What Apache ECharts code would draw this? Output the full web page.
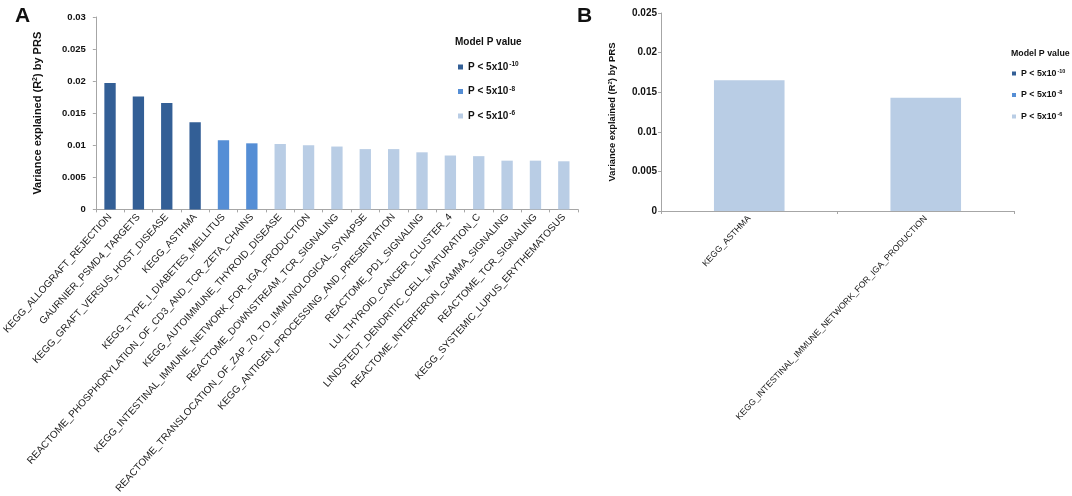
<!DOCTYPE html>
<html>
<head>
<meta charset="utf-8">
<script src="https://cdn.jsdelivr.net/npm/echarts@6/dist/echarts.min.js"></script>
<style>
  html, body { margin: 0; padding: 0; background: #fff; }
  #main { width: 1072px; height: 496px; }
</style>
</head>
<body>
<div id="main"></div>
<script>
// panel A
var categoriesA = [
    'KEGG_ALLOGRAFT_REJECTION',
    'GAURNIER_PSMD4_TARGETS',
    'KEGG_GRAFT_VERSUS_HOST_DISEASE',
    'KEGG_ASTHMA',
    'KEGG_TYPE_I_DIABETES_MELLITUS',
    'REACTOME_PHOSPHORYLATION_OF_CD3_AND_TCR_ZETA_CHAINS',
    'KEGG_AUTOIMMUNE_THYROID_DISEASE',
    'KEGG_INTESTINAL_IMMUNE_NETWORK_FOR_IGA_PRODUCTION',
    'REACTOME_DOWNSTREAM_TCR_SIGNALING',
    'REACTOME_TRANSLOCATION_OF_ZAP_70_TO_IMMUNOLOGICAL_SYNAPSE',
    'KEGG_ANTIGEN_PROCESSING_AND_PRESENTATION',
    'REACTOME_PD1_SIGNALING',
    'LUI_THYROID_CANCER_CLUSTER_4',
    'LINDSTEDT_DENDRITIC_CELL_MATURATION_C',
    'REACTOME_INTERFERON_GAMMA_SIGNALING',
    'REACTOME_TCR_SIGNALING',
    'KEGG_SYSTEMIC_LUPUS_ERYTHEMATOSUS'
];
var valuesA = [0.0197, 0.0176, 0.0166, 0.0136, 0.0108, 0.0103, 0.0102, 0.0100, 0.0098,
               0.0094, 0.0094, 0.0089, 0.0084, 0.0083, 0.0076, 0.0076, 0.0075];
// 0 = P<5x10-10, 1 = P<5x10-8, 2 = P<5x10-6
var groupA = [0, 0, 0, 0, 1, 1, 2, 2, 2, 2, 2, 2, 2, 2, 2, 2, 2];

// panel B
var categoriesB = ['KEGG_ASTHMA', 'KEGG_INTESTINAL_IMMUNE_NETWORK_FOR_IGA_PRODUCTION'];
var valuesB = [0.0165, 0.0143];
var groupB = [2, 2];

var pNames = ['P < 5x10-10', 'P < 5x10-8', 'P < 5x10-6'];
var pExps = ['-10', '-8', '-6'];
var pColors = ['#335f96', '#558ed5', '#b9cde5'];

var font = '"Liberation Sans", Arial, sans-serif';
var myChart = echarts.init(document.getElementById('main'));

function pick(values, groups, g) {
    return values.map(function (v, i) { return groups[i] === g ? v : '-'; });
}

function legendFormatter(name) {
    return 'P < 5x10{sup|' + pExps[pNames.indexOf(name)] + '}';
}

var series = [];
pNames.forEach(function (n, g) {
    series.push({
        name: n, type: 'bar', stack: 'a', xAxisIndex: 0, yAxisIndex: 0,
        barWidth: '40%', itemStyle: { color: pColors[g] },
        data: pick(valuesA, groupA, g)
    });
});
pNames.forEach(function (n, g) {
    series.push({
        name: n, type: 'bar', stack: 'b', xAxisIndex: 1, yAxisIndex: 1,
        barWidth: '40%', itemStyle: { color: pColors[g] },
        data: pick(valuesB, groupB, g)
    });
});

var axisLine = { show: true, lineStyle: { color: '#a6a6a6', width: 1 } };
var axisTick = { show: true, length: 3, lineStyle: { color: '#a6a6a6' } };

var option = {
    animation: false,
    textStyle: { fontFamily: font },
    title: [
        { text: 'A', left: 10, top: 1, textStyle: { fontSize: 21, fontWeight: 'bold', color: '#111', fontFamily: font } },
        { text: 'B', left: 572, top: 1, textStyle: { fontSize: 21, fontWeight: 'bold', color: '#111', fontFamily: font } },
        { text: 'Model P value', left: 455, top: 37, padding: 0, textStyle: { fontSize: 10, fontWeight: 'bold', color: '#111', fontFamily: font } },
        { text: 'Model P value', left: 1011, top: 49, padding: 0, textStyle: { fontSize: 8.8, fontWeight: 'bold', color: '#111', fontFamily: font } }
    ],
    legend: [
        {
            orient: 'vertical', left: 458, top: 61, padding: 0,
            itemWidth: 5, itemHeight: 5, icon: 'rect', itemGap: 12.5,
            data: pNames, formatter: legendFormatter,
            textStyle: {
                fontSize: 10, fontWeight: 'bold', color: '#111', fontFamily: font, lineHeight: 12,
                rich: { sup: { fontSize: 6.5, fontWeight: 'bold', color: '#111', verticalAlign: 'top', lineHeight: 12, padding: [0, 0, 5, 1] } }
            }
        },
        {
            orient: 'vertical', left: 1012, top: 68, padding: 0,
            itemWidth: 4, itemHeight: 4, icon: 'rect', itemGap: 10.5,
            data: pNames, formatter: legendFormatter,
            textStyle: {
                fontSize: 8.8, fontWeight: 'bold', color: '#111', fontFamily: font, lineHeight: 11,
                rich: { sup: { fontSize: 5.5, fontWeight: 'bold', color: '#111', verticalAlign: 'top', lineHeight: 11, padding: [0, 0, 4, 1] } }
            }
        }
    ],
    grid: [
        { left: 90, top: 17, width: 488, height: 197 },
        { left: 661, top: 13, width: 353, height: 198 }
    ],
    xAxis: [
        {
            type: 'category', gridIndex: 0, data: categoriesA,
            axisLine: axisLine, axisTick: axisTick,
            axisLabel: { interval: 0, rotate: 48, margin: 6, fontSize: 10, color: '#1a1a1a', fontFamily: font }
        },
        {
            type: 'category', gridIndex: 1, data: categoriesB,
            axisLine: axisLine, axisTick: axisTick,
            axisLabel: { interval: 0, rotate: 47, margin: 6, fontSize: 8.7, color: '#1a1a1a', fontFamily: font }
        }
    ],
    yAxis: [
        {
            type: 'value', gridIndex: 0, min: 0, max: 0.03, interval: 0.005,
            axisLine: axisLine, axisTick: axisTick, splitLine: { show: false },
            axisLabel: { margin: 10, fontSize: 9.5, fontWeight: 'bold', color: '#111', fontFamily: font },
            name: 'Variance explained (R{sup|2}) by PRS', nameLocation: 'middle', nameRotate: 90, nameGap: 52,
            nameTextStyle: {
                fontSize: 11, fontWeight: 'bold', color: '#111', fontFamily: font,
                rich: { sup: { fontSize: 7, fontWeight: 'bold', color: '#111', verticalAlign: 'top', padding: [0, 0, 5, 0] } }
            }
        },
        {
            type: 'value', gridIndex: 1, min: 0, max: 0.025, interval: 0.005,
            axisLine: axisLine, axisTick: axisTick, splitLine: { show: false },
            axisLabel: { margin: 4, fontSize: 10, fontWeight: 'bold', color: '#111', fontFamily: font },
            name: 'Variance explained (R{sup|2}) by PRS', nameLocation: 'middle', nameRotate: 90, nameGap: 44,
            nameTextStyle: {
                fontSize: 9.4, fontWeight: 'bold', color: '#111', fontFamily: font,
                rich: { sup: { fontSize: 6, fontWeight: 'bold', color: '#111', verticalAlign: 'top', padding: [0, 0, 4, 0] } }
            }
        }
    ],
    series: series
};
myChart.setOption(option);
window.onresize = myChart.resize;
</script>
</body>
</html>
